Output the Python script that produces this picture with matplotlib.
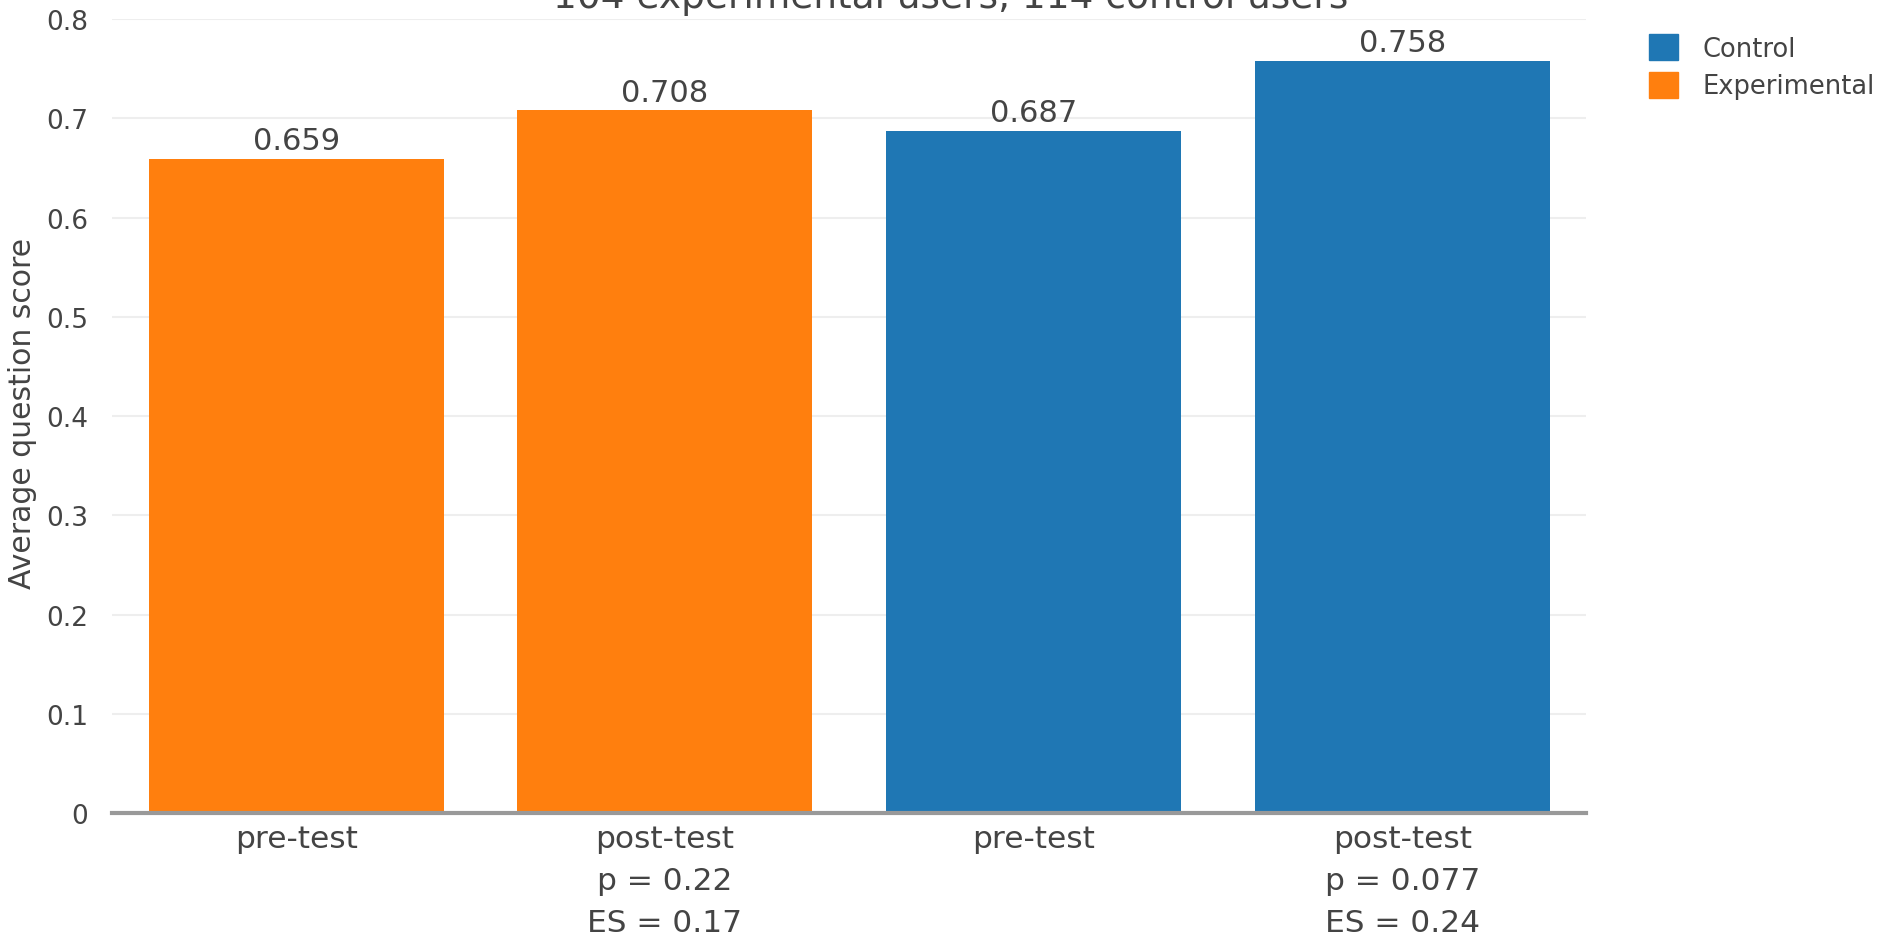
import numpy as np
import matplotlib.pyplot as plt
from matplotlib.patches import Patch

plt.rcParams['font.family'] = ['DejaVu Sans']

tick_labels = ['pre-test', 'post-test\np = 0.22\nES = 0.17',
               'pre-test', 'post-test\np = 0.077\nES = 0.24']
groups = ['Experimental', 'Experimental', 'Control', 'Control']
scores = [0.659, 0.708, 0.687, 0.758]
colors = {'Control': '#1f77b4', 'Experimental': '#ff7f0e'}
text_color = '#444444'

fig = plt.figure(figsize=(18.88, 9.37), dpi=100)
ax = fig.add_axes([0.0593, 0.131, 0.781, 0.8477])

x = np.arange(len(scores))
ax.bar(x, scores, width=0.8, color=[colors[g] for g in groups], zorder=2)
for xi, s in zip(x, scores):
    ax.annotate(f'{s:.3f}', (xi, s), xytext=(0, 7), textcoords='offset points',
                ha='center', va='baseline', fontsize=22, color=text_color)

ax.set_xlim(-0.5, 3.5)
ax.set_ylim(0, 0.8)
ax.set_yticks(np.arange(0, 0.81, 0.1))
ax.set_yticklabels(['0'] + [f'{v:.1f}' for v in np.arange(0.1, 0.81, 0.1)])
ax.set_xticks(x)
ax.set_xticklabels(tick_labels, linespacing=1.56)
ax.tick_params(axis='both', length=0, colors=text_color)
ax.tick_params(axis='x', labelsize=22.5, pad=8)
ax.tick_params(axis='y', labelsize=19, pad=17)
ax.grid(axis='y', color='#eeeeee', linewidth=1.5, zorder=0)
ax.set_axisbelow(True)
for side in ['top', 'right', 'left']:
    ax.spines[side].set_visible(False)
ax.spines['bottom'].set_color('#999999')
ax.spines['bottom'].set_linewidth(3)
ax.spines['bottom'].set_zorder(3)
ax.set_ylabel('Average question score', fontsize=21.5, color=text_color, va='center')
ax.yaxis.set_label_coords(-0.061, 0.505)

fig.text(0.5037, 0.991, '104 experimental users, 114 control users',
         ha='center', va='baseline', fontsize=27, color=text_color)

handles = [Patch(color=colors['Control'], label='Control'),
           Patch(color=colors['Experimental'], label='Experimental')]
fig.legend(handles=handles, loc='upper left', bbox_to_anchor=(0.861, 0.987),
           frameon=False, fontsize=18.5, labelcolor=text_color,
           handlelength=1.15, handleheight=1.15, handletextpad=0.95, labelspacing=0.4)

fig.savefig('out.png', dpi=100)
